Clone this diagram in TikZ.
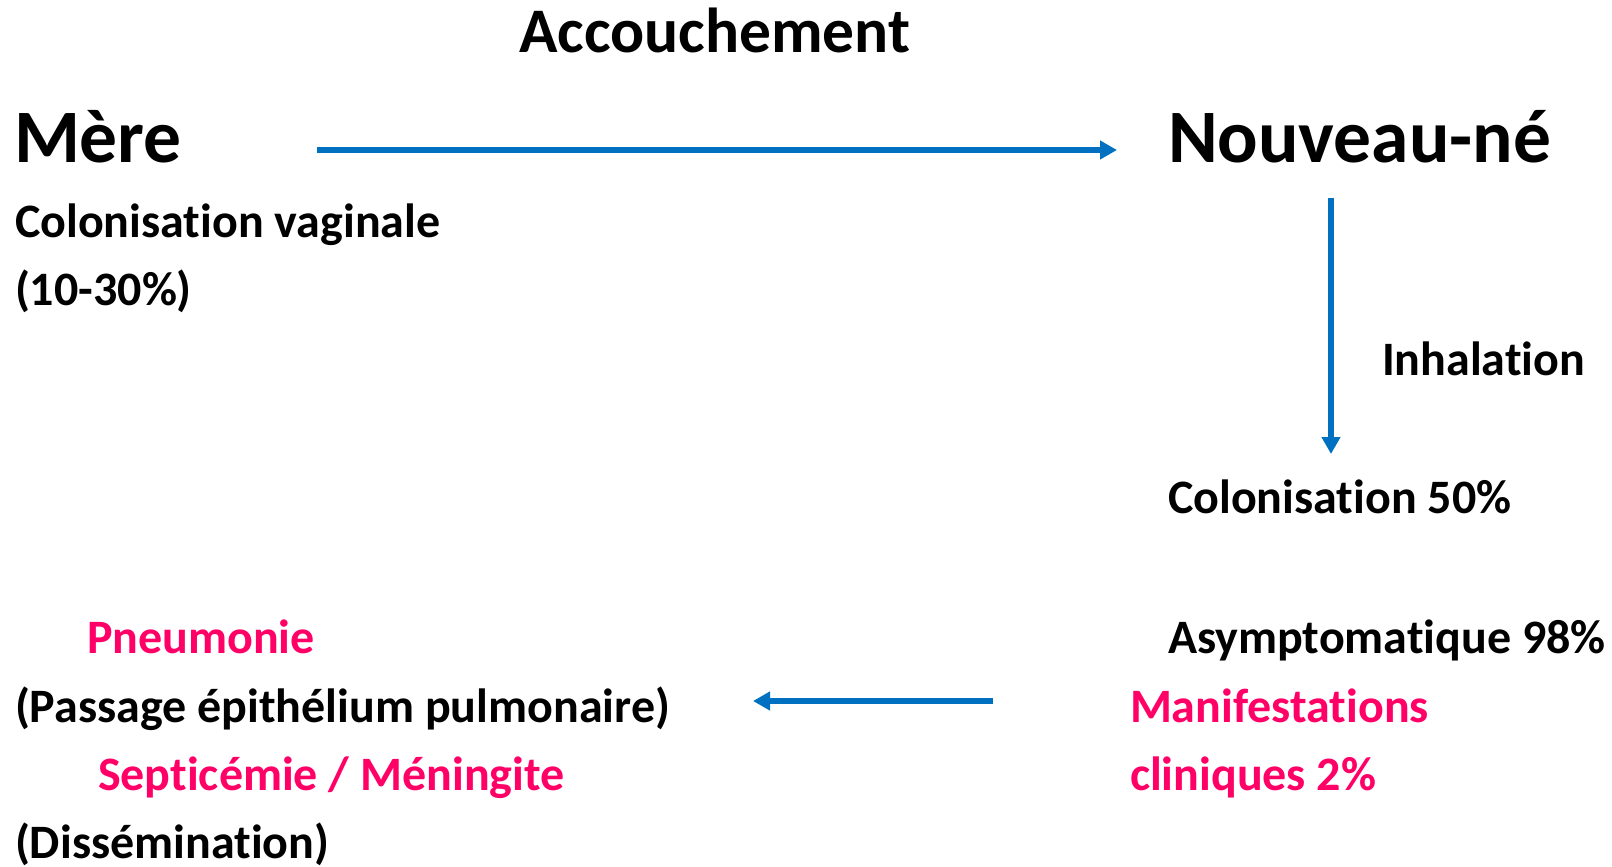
\documentclass[tikz,border=0pt]{standalone}
\usepackage{fontspec}
\setmainfont{Carlito}[Ligatures=NoCommon]
\usetikzlibrary{arrows.meta}
\definecolor{arrblue}{HTML}{0070C0}
\definecolor{pinkred}{HTML}{FF0066}
\begin{document}
\begin{tikzpicture}[x=1pt,y=-1pt,
  txt/.style={anchor=base west,inner sep=0pt,outer sep=0pt,font=\bfseries\fontsize{48}{57}\selectfont},
  big/.style={txt,font=\bfseries\fontsize{75.5}{88}\selectfont},
  title/.style={txt,font=\bfseries\fontsize{63.5}{74}\selectfont},
  red/.style={text=pinkred},
  arr/.style={draw=arrblue,line width=5.2pt,-{Triangle[length=17pt,width=18pt]}}]
\useasboundingbox (0,0) rectangle (1612,867);
\node[title] (acc) at (519,53) {Accouchement};
\node[big] (mere) at (14,162) {Mère};
\node[big] (nn) at (1168,162) {Nouveau-né};
\node[txt] (colv) at (15,237) {Colonisation vaginale};
\node[txt] (pct) at (15,305) {(10-30\%)};
\node[txt] (inh) at (1382,375) {Inhalation};
\node[txt] (col50) at (1168,513) {Colonisation 50\%};
\node[txt] (asym) at (1168,653) {Asymptomatique 98\%};
\node[txt,red] (manif) at (1130,722) {Manifestations};
\node[txt,red] (clin) at (1130,790) {cliniques 2\%};
\node[txt,red] (pneu) at (87,653) {Pneumonie};
\node[txt] (pass) at (15,722) {(Passage épithélium pulmonaire)};
\node[txt,red] (sept) at (98,790) {Septicémie / Méningite};
\node[txt] (diss) at (15,858) {(Dissémination)};
\coordinate (a1s) at (317,150);
\coordinate (a1e) at (1117,150);
\coordinate (a2s) at (1331,198);
\coordinate (a2e) at (1331,454);
\coordinate (a3s) at (993,701);
\coordinate (a3e) at (753,701);
\draw[arr] (a1s) -- (a1e);
\draw[arr] (a2s) -- (a2e);
\draw[arr] (a3s) -- (a3e);
\end{tikzpicture}
\end{document}
